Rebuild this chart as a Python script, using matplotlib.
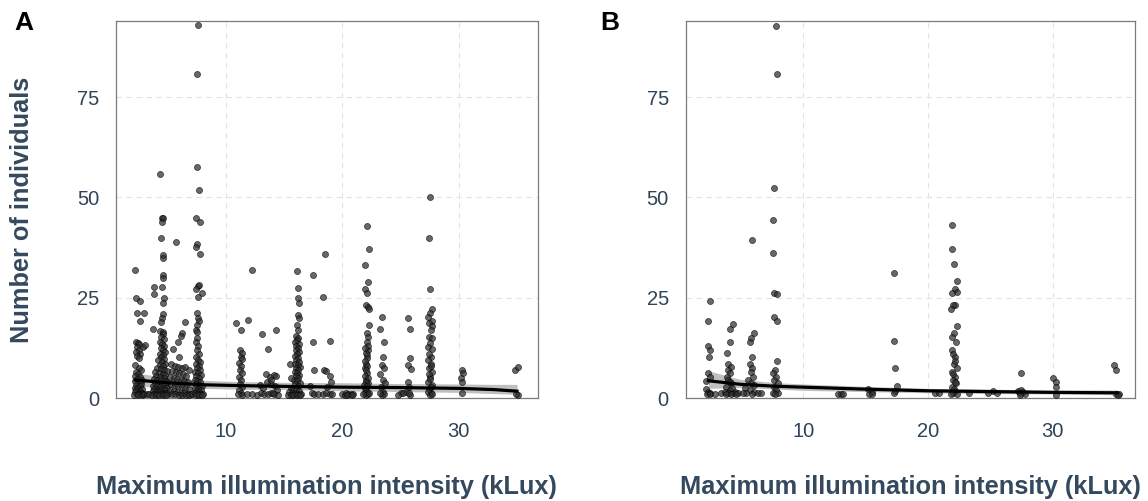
import numpy as np
import matplotlib
matplotlib.use('Agg')
import matplotlib.pyplot as plt

plt.rcParams['font.family'] = ['Liberation Sans', 'DejaVu Sans']

# panel A: (illumination kLux, number of individuals)
A_points = [
    # ~2-3 kLux
    (2.15, 32), (2.3, 24.9), (2.6, 24.2), (2.4, 21.1), (2.96, 21.1), (2.6, 19.3), (2.9, 12.8),
    (3.07, 13.1), (2.3, 14), (2.45, 13.8), (2.55, 13.5), (2.35, 12.6), (2.5, 12), (2.3, 11.5),
    (2.6, 11), (2.4, 10.4), (2.55, 10), (2.2, 8.2), (2.5, 7.5), (2.7, 7), (2.3, 6.6), (2.45, 6),
    (2.15, 5.5), (2.6, 5.2), (2.35, 4.8), (2.8, 4.6), (2.2, 4.2), (2.5, 4), (2.7, 3.6),
    (2.3, 3.3), (2.6, 3), (2.15, 2.6), (2.45, 2.4), (2.8, 2.2), (2.3, 2), (2.6, 1.8), (2.2, 1.5),
    (2.5, 1.3), (2.75, 1.2), (2.35, 1), (2.65, 1), (2.9, 1), (2.1, 0.8), (2.45, 0.7), (2.8, 0.8),
    (3.0, 1.0), (3.2, 1.1), (3.4, 1.0),
    # ~4-5 kLux
    (4.37, 55.8), (4.5, 44.8), (4.6, 44.8), (4.5, 44), (4.46, 39.8), (4.6, 35.6), (4.55, 35),
    (4.6, 30.6), (4.58, 29.9), (3.8, 27.7), (4.5, 27.6), (3.8, 25.9), (4.7, 25), (4.55, 23.8),
    (4.6, 20.9), (4.5, 20), (4.4, 19), (3.76, 17.3), (4.35, 16.8), (4.55, 16.5), (4.6, 16),
    (4.45, 15.2), (4.7, 14.6), (4.3, 14), (4.5, 13.5), (4.65, 13), (4.4, 12.4), (4.55, 12),
    (4.75, 11.5), (4.3, 11), (4.6, 10.6), (4.45, 10.2), (4.7, 9.8), (4.2, 9.4), (4.5, 9),
    (4.8, 8.6), (4.35, 8.3), (4.6, 8), (4.1, 7.6), (4.4, 7.3), (4.7, 7), (4.9, 6.8), (3.9, 6.5),
    (4.25, 6.3), (4.55, 6), (4.8, 5.8), (4.0, 5.5), (4.35, 5.3), (4.65, 5), (3.8, 4.8),
    (4.1, 4.6), (4.45, 4.4), (4.75, 4.2), (4.95, 4), (3.9, 3.8), (4.2, 3.6), (4.5, 3.5),
    (4.8, 3.3), (3.7, 3.1), (4.05, 3), (4.35, 2.8), (4.65, 2.6), (4.9, 2.5), (3.85, 2.3),
    (4.15, 2.1), (4.45, 2), (4.75, 1.9), (3.7, 1.7), (4.0, 1.5), (4.3, 1.4), (4.6, 1.3),
    (4.9, 1.2), (3.8, 1.1), (4.1, 1), (4.4, 1), (4.7, 1), (5.0, 1), (3.65, 0.8), (3.95, 0.7),
    (4.25, 0.8), (4.55, 0.7), (4.85, 0.8),
    # ~5-7 kLux
    (5.75, 38.8), (6.45, 18.9), (6.2, 16.1), (6.1, 15.4), (5.9, 14.0), (5.45, 12.2), (6.0, 10.1),
    (5.3, 8.5), (5.6, 8), (5.9, 7.8), (6.2, 7.5), (6.5, 7.8), (6.8, 7), (5.4, 6.8), (5.7, 6.4),
    (6.0, 6.2), (6.3, 6), (6.6, 5.6), (5.2, 5.3), (5.5, 5), (5.8, 4.8), (6.1, 4.6), (6.4, 4.3),
    (6.7, 4), (5.3, 3.6), (5.6, 3.3), (5.9, 3), (6.2, 2.8), (6.5, 2.5), (6.8, 2.2), (5.2, 2),
    (5.5, 1.8), (5.8, 1.5), (6.1, 1.3), (6.4, 1.2), (6.7, 1), (7.0, 1), (5.35, 1), (5.65, 0.9),
    (5.95, 0.8), (6.25, 0.8), (6.55, 0.7), (6.85, 0.8), (7.1, 1.1),
    # ~7.5 kLux
    (7.6, 93.1), (7.5, 80.8), (7.5, 57.6), (7.7, 51.9), (7.4, 44.8), (7.8, 43.8), (7.5, 38.5),
    (7.4, 37.6), (7.75, 36), (7.6, 27.9), (7.7, 28.1), (7.4, 27.2), (7.97, 26.3), (7.6, 25.3),
    (7.5, 21.1), (7.6, 20), (7.65, 19.3), (7.5, 18.2), (7.4, 17), (7.5, 16.4), (7.55, 15),
    (7.45, 14), (7.6, 13), (7.5, 12), (7.7, 11), (7.45, 10.2), (7.6, 9.5), (7.8, 9), (7.4, 8.4),
    (7.65, 8), (7.5, 7.4), (7.75, 7), (7.35, 6.6), (7.6, 6.2), (7.85, 5.8), (7.45, 5.4),
    (7.7, 5), (7.3, 4.6), (7.55, 4.3), (7.8, 4), (7.4, 3.6), (7.65, 3.3), (7.9, 3), (7.35, 2.6),
    (7.6, 2.3), (7.85, 2), (7.45, 1.7), (7.7, 1.5), (7.3, 1.2), (7.55, 1), (7.8, 1), (8.0, 1),
    (7.4, 0.8), (7.65, 0.7), (7.95, 0.8),
    # ~11-14.5 kLux
    (10.9, 18.7), (11.3, 16.9), (11.9, 19.5), (12.2, 32), (13.1, 15.9), (13.6, 12.1), (14.3, 16.9),
    (11.2, 12), (11.35, 11.2), (11.25, 10.3), (11.4, 9.6), (11.15, 8.8), (11.3, 8), (11.2, 7),
    (11.4, 6.2), (11.1, 5.3), (11.3, 4.5), (11.2, 3.6), (11.35, 2.8), (11.1, 2), (11.25, 1.3),
    (11.4, 0.8), (11.05, 0.9), (12.9, 3.2), (13.2, 2.5), (13.4, 6), (13.5, 4), (13.8, 5.2),
    (14.1, 5.7), (14.3, 5.5), (13.9, 3.6), (14.2, 3.0), (14.4, 2.0), (13.0, 1.2), (13.3, 1),
    (13.6, 0.9), (13.9, 1.2), (14.15, 1), (14.45, 0.8), (12.7, 0.8), (11.8, 1), (12.2, 1.1),
    (14.0, 1.2), (13.9, 4.5),
    # ~16 kLux
    (16.1, 31.6), (16.2, 27.4), (16.15, 25), (16.3, 23.7), (16.2, 20.8), (16.3, 20), (16.1, 18.2),
    (16.15, 17), (16.0, 15.5), (16.2, 15), (16.1, 14.5), (15.95, 14), (16.25, 13.5), (16.05, 13),
    (16.2, 12.5), (16.0, 12), (16.3, 11.5), (16.1, 11), (15.9, 10.5), (16.2, 10), (16.05, 9.5),
    (16.3, 9), (15.95, 8.6), (16.15, 8.2), (16.35, 7.8), (16.0, 7.4), (16.2, 7), (15.9, 6.6),
    (16.1, 6.2), (16.3, 5.8), (16.0, 5.4), (16.2, 5), (15.85, 4.6), (16.1, 4.2), (16.35, 3.8),
    (15.95, 3.4), (16.15, 3), (15.6, 2.6), (15.8, 2.3), (16.05, 2), (16.3, 1.8), (15.4, 1.5),
    (15.65, 1.3), (15.9, 1.1), (16.2, 1), (16.45, 1), (15.3, 0.8), (15.55, 0.8), (15.8, 0.7),
    (16.1, 0.8), (16.35, 0.7), (15.5, 8.6), (15.55, 4.9),
    # ~17-19 kLux
    (17.5, 30.7), (18.36, 25.3), (18.5, 35.8), (17.5, 14), (18.9, 14.2), (17.6, 7), (18.4, 7.1),
    (18.6, 6.8), (18.9, 5.5), (19.0, 4.1), (18.65, 2.8), (17.2, 3.1), (17.35, 1.3), (17.6, 1),
    (17.9, 1.1), (18.3, 1), (18.6, 1.2), (18.9, 1), (19.1, 0.9),
    # ~20-21 kLux
    (20.0, 1), (20.2, 0.8), (20.3, 1.2), (20.5, 1), (20.7, 1.1), (20.9, 1), (20.4, 0.7),
    (20.8, 0.8),
    # ~22 kLux
    (22.08, 43.0), (22.25, 37.2), (21.9, 33.1), (22.2, 28.9), (21.9, 27.1), (22.1, 26.1),
    (22.0, 23.2), (22.2, 22.8), (22.3, 22.1), (22.25, 18.2), (22.1, 16.1), (22.2, 15.1),
    (22.1, 14.0), (22.2, 12), (22.1, 10.7), (22.1, 9.9), (22.0, 8.6), (21.9, 7.4), (22.1, 6.2),
    (22.0, 4.5), (22.2, 3.7), (21.9, 2.4), (22.1, 1.6), (22.0, 11.3), (21.95, 9.2), (22.15, 8),
    (22.05, 7), (21.9, 5.5), (22.2, 5), (22.0, 4), (21.85, 3.2), (22.15, 3), (22.0, 2),
    (21.9, 1.2), (22.2, 1), (22.05, 0.8), (21.8, 0.9), (22.3, 1.3), (22.2, 13), (21.95, 12.5),
    # ~23.5 kLux
    (23.4, 20.3), (23.2, 17.3), (23.6, 14.0), (23.45, 10.1), (23.4, 8.2), (23.6, 7.4), (23.2, 6.0),
    (23.45, 4.5), (23.65, 3.7), (23.3, 2.7), (23.5, 1.6), (23.4, 0.8), (23.6, 1.0), (23.25, 1.2),
    # ~25-26 kLux
    (25.65, 20.0), (25.8, 17.1), (25.8, 9.9), (25.65, 8.2), (25.9, 7.2), (25.6, 4.1), (25.75, 2.8),
    (25.5, 1.6), (25.8, 0.8), (25.0, 1.3), (25.2, 1.2), (24.8, 0.8), (25.7, 1.2),
    # ~27.5 kLux
    (27.55, 50.2), (27.4, 40.0), (27.5, 27.2), (27.66, 22.1), (27.5, 21.1), (27.35, 20.3),
    (27.7, 19.2), (27.46, 18.6), (27.7, 17.9), (27.57, 17.0), (27.4, 15.3), (27.66, 14.9),
    (27.5, 13.6), (27.37, 12.8), (27.7, 12.1), (27.57, 10.3), (27.37, 9.5), (27.63, 8.6),
    (27.46, 7.4), (27.7, 6.6), (27.5, 5.3), (27.37, 4.1), (27.66, 3.2), (27.46, 2.2),
    (27.57, 1.2), (27.45, 11), (27.6, 7.9), (27.4, 6), (27.55, 4.7), (27.65, 2.7), (27.35, 1.6),
    (27.5, 0.8), (27.7, 1),
    # ~30 and 35 kLux
    (30.23, 7.0), (30.4, 6.2), (30.15, 4.9), (30.3, 4.1), (30.23, 1.2),
    (34.8, 7.1), (35.1, 7.8), (35.1, 0.8), (34.95, 1.0),
]

# panel B
B_points = [
    (2.54, 24.2), (2.35, 19.3), (2.35, 13.0), (2.5, 12.0), (2.43, 10.1), (2.35, 6.3), (2.5, 5.3),
    (2.2, 4.3), (2.25, 2.2), (2.4, 1.6), (2.55, 1.2), (2.3, 1.0), (2.5, 0.9), (2.9, 1.0),
    (4.1, 17.3), (4.41, 18.4), (4.17, 14.0), (3.9, 11.3), (4.0, 8.6), (4.2, 7.8), (3.96, 7.0),
    (4.1, 6.2), (3.9, 5.3), (4.0, 4.5), (4.2, 3.7), (3.8, 2.8), (4.1, 2.0), (3.96, 1.2),
    (4.4, 1.2), (3.4, 1.2), (3.7, 1.6), (4.5, 1.6), (4.75, 1.3), (4.3, 2.5), (4.15, 4.1),
    (3.85, 1.0), (4.25, 1.0), (4.6, 1.0),
    (5.88, 39.4), (6.1, 16.1), (5.83, 14.9), (5.75, 14.0), (5.88, 10.1), (5.7, 8.6), (5.88, 7.4),
    (5.8, 6.6), (5.96, 5.3), (5.6, 4.5), (5.83, 3.7), (6.1, 3.2), (5.3, 2.4), (5.7, 2.0),
    (6.04, 1.6), (6.36, 1.2), (5.44, 1.2), (5.16, 1.3), (6.6, 1.2), (5.9, 1.0),
    (7.85, 92.8), (7.9, 80.9), (7.7, 52.3), (7.62, 44.4), (7.62, 36.1), (7.7, 26.2), (7.9, 25.9),
    (7.65, 20.3), (7.9, 19.3), (7.9, 9.2), (7.75, 7.0), (7.57, 6.2), (7.83, 5.3), (7.7, 4.5),
    (7.97, 3.7), (7.65, 2.8), (7.83, 2.0), (7.6, 1.2), (7.97, 1.2), (7.75, 1.0),
    (12.8, 1.0), (13.0, 1.1), (13.2, 1.0),
    (15.2, 2.3), (15.5, 1.6), (15.3, 1.0), (15.5, 0.9),
    (17.27, 31.1), (17.25, 14.3), (17.33, 7.4), (17.54, 3.0), (17.4, 1.8), (17.3, 1.2),
    (20.53, 1.2), (20.9, 1.2),
    (21.93, 43.2), (21.93, 37.2), (22.1, 33.3), (22.3, 29.2), (22.2, 27.3), (22.3, 26.5),
    (21.93, 26.3), (22.14, 23.2), (22.0, 23.2), (21.88, 22.1), (22.3, 17.9), (22.1, 16.1),
    (21.93, 15.1), (22.25, 14.0), (21.93, 12.0), (22.0, 11.0), (22.2, 10.1), (22.1, 8.6),
    (22.3, 7.4), (21.93, 6.6), (22.14, 5.3), (22.0, 4.5), (22.25, 3.7), (21.93, 2.7),
    (22.14, 1.8), (22.0, 1.2), (22.3, 1.0), (22.2, 9.3), (22.05, 6.0), (22.2, 4.0), (22.1, 2.3),
    (21.85, 1.0),
    (23.26, 1.2), (24.8, 1.2), (25.2, 1.8), (25.5, 1.2),
    (27.5, 6.2), (27.2, 1.8), (27.35, 1.2), (27.5, 2.0), (27.65, 1.4), (27.8, 1.0), (27.4, 0.8),
    (30.0, 5.1), (30.3, 4.1), (30.3, 2.8), (30.3, 0.8),
    (34.9, 8.2), (35.1, 7.0), (35.1, 1.0), (35.3, 1.0), (35.2, 0.8),
]

# fitted trend and confidence band
A_fit_x = [2.2, 5, 8, 11, 15, 20, 25, 30, 33, 35]
A_fit_y = [4.5, 3.8, 3.3, 3.1, 2.9, 2.7, 2.6, 2.4, 2.1, 1.7]
A_fit_lo = [2.7, 3.0, 2.4, 2.2, 2.1, 1.8, 1.6, 1.4, 1.1, 0.9]
A_fit_hi = [6.3, 5.0, 4.4, 4.1, 3.9, 3.8, 3.6, 3.5, 3.4, 3.4]

B_fit_x = [2.4, 5, 8, 10, 15, 20, 25, 30, 35.2]
B_fit_y = [4.3, 3.4, 2.9, 2.7, 2.2, 1.8, 1.6, 1.4, 1.3]
B_fit_lo = [2.4, 2.6, 2.2, 1.9, 1.6, 1.3, 1.1, 1.0, 0.8]
B_fit_hi = [6.8, 4.6, 3.8, 3.5, 2.9, 2.4, 2.2, 2.0, 2.0]

xticks = [10, 20, 30]
yticks = [0, 25, 50, 75]
xlabel = 'Maximum illumination intensity (kLux)'
ylabel = 'Number of individuals'

tick_col = '#2f4358'
title_col = '#34495e'

W, H = 1148, 501
fig = plt.figure(figsize=(W / 100, H / 100), dpi=100)
axA = fig.add_axes([115.7 / W, 1 - 398 / H, (538 - 115.7) / W, (398 - 21) / H])
axB = fig.add_axes([685.5 / W, 1 - 398 / H, (1135 - 685.5) / W, (398 - 21) / H])

panels = [(axA, A_points, A_fit_x, A_fit_y, A_fit_lo, A_fit_hi, (0.53, 36.8)),
          (axB, B_points, B_fit_x, B_fit_y, B_fit_lo, B_fit_hi, (0.57, 36.6))]

for ax, pts, fx, fy, flo, fhi, xlim in panels:
    px, py = zip(*pts)
    ax.fill_between(fx, flo, fhi, color='#b8b8b8', alpha=0.9, lw=0, zorder=2)
    ax.scatter(px, py, s=19, c='#2e2e2e', edgecolors='black', linewidths=0.5,
               alpha=0.72, zorder=3)
    ax.plot(fx, fy, color='black', lw=2.3, zorder=4)
    ax.set_xlim(*xlim)
    ax.set_ylim(0, 94)
    ax.set_xticks(xticks)
    ax.set_yticks(yticks)
    ax.grid(True, color='#e3e3e3', lw=0.8, ls=(0, (5, 4)))
    ax.set_axisbelow(True)
    ax.tick_params(length=0, labelsize=14.5, labelcolor=tick_col)
    ax.tick_params(axis='x', pad=17)
    ax.tick_params(axis='y', pad=12)
    for s in ax.spines.values():
        s.set_color('#7a7a7a')
        s.set_linewidth(0.9)
    cx = (ax.get_position().x0 + ax.get_position().x1) / 2
    fig.text(cx, 1 - 487 / H, xlabel, ha='center', va='center', fontsize=18.3,
             fontweight='bold', color=title_col)

fig.text(22.5 / W, 1 - 209.5 / H, ylabel, rotation=90, ha='center', va='center',
         fontsize=18.3, fontweight='bold', color=title_col)
fig.text(24 / W, 1 - 23 / H, 'A', ha='center', va='center', fontsize=19,
         fontweight='bold', color='black')
fig.text(610 / W, 1 - 23 / H, 'B', ha='center', va='center', fontsize=19,
         fontweight='bold', color='black')

fig.savefig('out.png', dpi=100)
